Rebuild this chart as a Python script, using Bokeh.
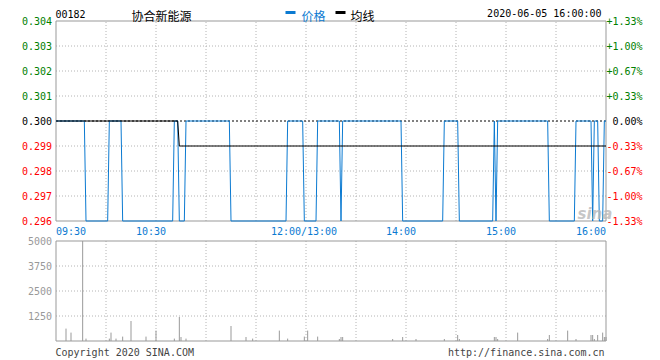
from bokeh.plotting import figure
from bokeh.models import Range1d, Label
from bokeh.embed import file_html
from bokeh.resources import INLINE

# ---------------- data ----------------
stock_code = "00182"
stock_name = "协合新能源"
timestamp = "2020-06-05 16:00:00"
legend_labels = ["价格", "均线"]
prev_close = 0.300

price_ticks = [0.304, 0.303, 0.302, 0.301, 0.300, 0.299, 0.298, 0.297, 0.296]
price_tick_labels = ["0.304", "0.303", "0.302", "0.301", "0.300", "0.299", "0.298", "0.297", "0.296"]
pct_tick_labels = ["+1.33%", "+1.00%", "+0.67%", "+0.33%", "0.00%", "-0.33%", "-0.67%", "-1.00%", "-1.33%"]
price_grid_ticks = [0.303, 0.302, 0.301, 0.299, 0.298, 0.297]

vol_ticks = [5000, 3750, 2500, 1250]
vol_tick_labels = ["5000", "3750", "2500", "1250"]
vol_grid_ticks = [3750, 2500, 1250]

# minutes of trading since 09:30 (lunch break removed)
time_ticks = [0, 60, 150, 210, 270, 330]
time_tick_labels = ["09:30", "10:30", "12:00/13:00", "14:00", "15:00", "16:00"]
grid_minutes = [30, 60, 90, 120, 150, 180, 210, 240, 270, 300]

price_minutes = [0, 17, 18, 31, 32, 39, 40, 70, 71, 73, 74, 77, 78, 104, 105, 138, 139, 148, 149,
                 156, 157, 170, 171, 172, 207, 208, 232, 233, 241, 242, 262, 263, 264, 265, 295,
                 296, 311, 312, 321, 322, 323, 325, 326, 328, 329, 330]
price_values = [0.300, 0.300, 0.296, 0.296, 0.300, 0.300, 0.296, 0.296, 0.300, 0.300, 0.296, 0.296,
                0.300, 0.300, 0.296, 0.296, 0.300, 0.300, 0.296, 0.296, 0.300, 0.300, 0.296, 0.300,
                0.300, 0.296, 0.296, 0.300, 0.300, 0.296, 0.296, 0.300, 0.296, 0.300, 0.300, 0.296,
                0.296, 0.300, 0.300, 0.296, 0.300, 0.300, 0.296, 0.296, 0.300, 0.300]

avg_minutes = [0, 73, 74, 330]
avg_values = [0.300, 0.300, 0.2990, 0.2990]

vol_minutes = [6, 9, 16, 18, 32, 33, 36, 40, 45, 54, 60, 71, 74, 75, 78, 105, 114, 118, 134, 139,
               149, 151, 157, 170, 171, 172, 202, 208, 216, 233, 241, 242, 263, 264, 265, 277, 295,
               296, 307, 312, 321, 322, 323, 325, 328, 329, 330]
vol_values = [620, 420, 5600, 120, 120, 420, 120, 220, 1000, 220, 520, 120, 1200, 200, 120, 750, 200,
              120, 520, 120, 220, 520, 220, 100, 200, 200, 100, 200, 100, 100, 300, 100, 200, 200,
              100, 420, 100, 300, 520, 100, 300, 300, 100, 300, 420, 200, 200]

# ---------------- styles / layout ----------------
BLUE = "#0b7ad1"
GREEN = "#008000"
RED = "#ff0000"
GRAY = "#999999"
GRID = "#b4b4b4"
FOOT = "#444444"
MONO = "DejaVu Sans Mono"
CJK = "Noto Sans CJK SC"

W, H = 660, 360
X_MIN, X_MAX = 0, 330
P_MIN, P_MAX = 0.296, 0.304
V_MIN, V_MAX = 0, 5000

# pixel layout of the two panels (pixel centres for crisp 1px lines)
PLOT_LEFT = 55.5
PLOT_W = 550.0
P_TOP, P_H = 20.5, 200.0
V_TOP, V_H = 240.5, 100.0

px_per_min = PLOT_W / (X_MAX - X_MIN)
p_per_px = (P_MAX - P_MIN) / P_H
v_per_px = (V_MAX - V_MIN) / V_H


def xd(px):
    return X_MIN + (px - PLOT_LEFT) / px_per_min


def yP(py):
    return P_MAX - (py - P_TOP) * p_per_px


def yV(py):
    return V_MAX - (py - V_TOP) * v_per_px


x_range = Range1d(xd(0), xd(W))
y_range = Range1d(yP(H), yP(0))

p = figure(width=W, height=H, output_backend="svg", toolbar_location=None,
           x_axis_location=None, y_axis_location=None, title=None,
           x_range=x_range, y_range=y_range)
p.extra_y_ranges = {"vol": Range1d(yV(H), yV(0))}
p.min_border = 0
p.min_border_left = 0
p.min_border_right = 0
p.min_border_top = 0
p.min_border_bottom = 0
p.outline_line_color = None
p.background_fill_color = "white"
p.border_fill_color = "white"
p.xgrid.visible = False
p.ygrid.visible = False


def tick_color(v):
    if v > prev_close + 1e-9:
        return GREEN
    if v < prev_close - 1e-9:
        return RED
    return "black"


def lab(x, y, text, color, size="10px", font=MONO, align="left", x_offset=0,
        style="normal", alpha=1.0, yr="default"):
    p.add_layout(Label(x=x, y=y, text=text, text_color=color, text_font=font, text_font_size=size,
                       text_align=align, text_baseline="alphabetic", x_offset=x_offset,
                       text_font_style=style, text_alpha=alpha, y_range_name=yr))


# ---------------- price panel ----------------
n = len(grid_minutes)
p.segment(x0=grid_minutes, y0=[P_MIN] * n, x1=grid_minutes, y1=[P_MAX] * n,
          line_color=GRID, line_dash="1 2", line_width=1)
k = len(price_grid_ticks)
p.segment(x0=[X_MIN] * k, y0=price_grid_ticks, x1=[X_MAX] * k, y1=price_grid_ticks,
          line_color=GRID, line_dash="1 2", line_width=1)
p.segment(x0=[X_MIN], y0=[prev_close], x1=[X_MAX], y1=[prev_close],
          line_color="black", line_dash="2 2", line_width=1)
p.quad(left=[X_MIN], right=[X_MAX], bottom=[P_MIN], top=[P_MAX],
       fill_color=None, line_color=GRAY, line_width=1)

p.line(price_minutes, price_values, line_color=BLUE, line_width=1)
p.line(avg_minutes, avg_values, line_color="black", line_width=1)

for t, txt, pct in zip(price_ticks, price_tick_labels, pct_tick_labels):
    c = tick_color(t)
    lab(xd(51.5), t, txt, c, align="right")
    lab(xd(642), t, pct, c, align="right")

time_align = ["left", "center", "center", "center", "center", "right"]
time_offset = [0, -5, -2, -5, -5, 0]
for m, txt, al, off in zip(time_ticks, time_tick_labels, time_align, time_offset):
    lab(m, yP(231), txt, BLUE, align=al, x_offset=off)

# header
lab(xd(55), yP(13), stock_code, "black")
lab(xd(131), yP(14.5), stock_name, "black", size="12px", font=CJK)
p.quad(left=[xd(285)], right=[xd(295)], bottom=[yP(13.5)], top=[yP(10.5)],
       fill_color=BLUE, line_color=None)
lab(xd(301), yP(14.5), legend_labels[0], BLUE, size="12px", font=CJK)
p.quad(left=[xd(335)], right=[xd(345)], bottom=[yP(13.5)], top=[yP(10.5)],
       fill_color="black", line_color=None)
lab(xd(350), yP(14.5), legend_labels[1], "black", size="12px", font=CJK)
lab(xd(601), yP(13), timestamp, "black", align="right")

# watermark
lab(xd(577), yP(213), "sina", "#b8b8b8", size="15px", font="DejaVu Sans",
    style="bold italic", alpha=0.8)

# ---------------- volume panel ----------------
p.segment(x0=grid_minutes, y0=[V_MIN] * n, x1=grid_minutes, y1=[V_MAX] * n,
          line_color=GRID, line_dash="1 2", line_width=1, y_range_name="vol")
kv = len(vol_grid_ticks)
p.segment(x0=[X_MIN] * kv, y0=vol_grid_ticks, x1=[X_MAX] * kv, y1=vol_grid_ticks,
          line_color=GRID, line_dash="1 2", line_width=1, y_range_name="vol")
vol_shown = [min(v, V_MAX) for v in vol_values]  # bars are clipped at the panel top
p.segment(x0=vol_minutes, y0=[V_MIN] * len(vol_minutes), x1=vol_minutes, y1=vol_shown,
          line_color=GRAY, line_width=1, y_range_name="vol")
p.quad(left=[X_MIN], right=[X_MAX], bottom=[V_MIN], top=[V_MAX],
       fill_color=None, line_color=GRAY, line_width=1, y_range_name="vol")

for v, txt in zip(vol_ticks, vol_tick_labels):
    lab(xd(51.5), v, txt, GRAY, align="right", yr="vol")

lab(xd(55), yV(352), "Copyright 2020 SINA.COM", FOOT, yr="vol")
lab(xd(604), yV(352), "http://finance.sina.com.cn", FOOT, align="right", yr="vol")

open("out.html", "w").write(file_html(p, INLINE))
